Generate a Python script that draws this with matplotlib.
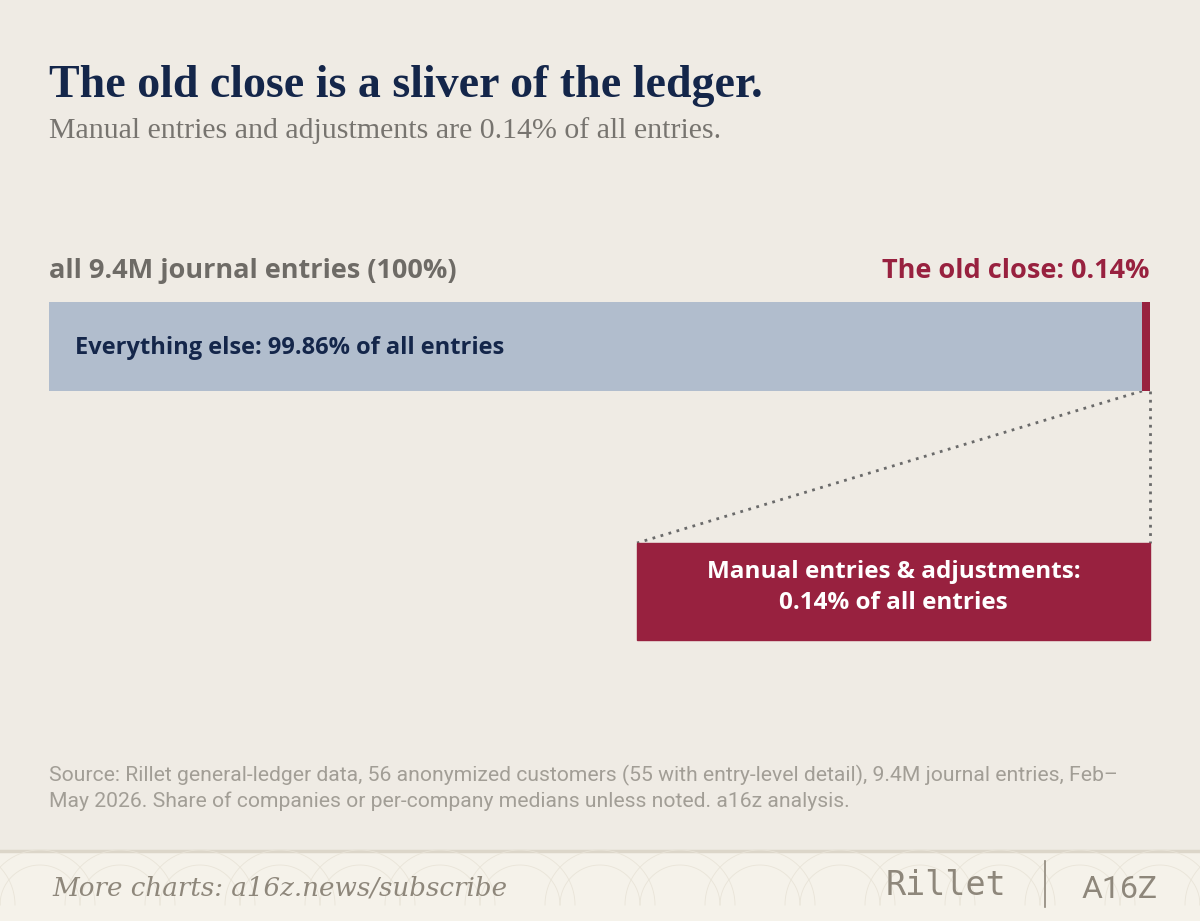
import numpy as np
import matplotlib
matplotlib.use('Agg')
import matplotlib.pyplot as plt
from matplotlib.patches import Rectangle

# data
segments = ['Everything else', 'Manual entries & adjustments']
shares = [99.86, 0.14]
total_entries = '9.4M'
min_visible = 0.7  # make the sliver visible on screen

BG = '#EFEBE4'
FOOT_BG = '#F5F2EA'
NAVY = '#14264A'
CRIMSON = '#98213F'
BLUE = '#B1BDCD'
GRAY = '#6E6B66'
SRC_GRAY = '#A29E96'
FOOT_GRAY = '#8E877B'
SANS = 'Open Sans'

W, H = 1200, 921
fig = plt.figure(figsize=(W / 100, H / 100), dpi=100, facecolor=BG)

# pixel overlay for text and decoration
ov = fig.add_axes([0, 0, 1, 1], zorder=0)
ov.set_xlim(0, W)
ov.set_ylim(H, 0)
ov.axis('off')
ov.set_facecolor(BG)

# footer band with faint arc pattern
ov.add_patch(Rectangle((0, 851), W, 70, color=FOOT_BG, zorder=0))
ov.plot([0, W], [851, 851], color='#DCD6C9', lw=2.5, zorder=1)
t = np.linspace(np.pi, 2 * np.pi, 60)
for cx in np.arange(-40, W + 80, 80):
    for r in (40, 55):
        ov.plot(cx + r * np.cos(t), 905 + r * np.sin(t), color='#E9E4D8', lw=0.6, zorder=1)

ov.text(49, 97, 'The old close is a sliver of the ledger.', family='Liberation Serif',
        weight='bold', fontsize=33, color=NAVY, va='baseline')
ov.text(49, 138, 'Manual entries and adjustments are 0.14% of all entries.',
        family='Liberation Serif', fontsize=21.5, color='#77746F', va='baseline')

ov.text(49, 278, f'all {total_entries} journal entries (100%)', family=SANS,
        weight='bold', fontsize=19.5, color=GRAY, va='baseline')
ov.text(1150, 278, f'The old close: {shares[1]:.2f}%', family=SANS,
        weight='bold', fontsize=19.5, color=CRIMSON, va='baseline', ha='right')

# main bar
ax = fig.add_axes([49 / W, 1 - 391 / H, 1101 / W, 89 / H], zorder=2)
ax.set_xlim(0, 100)
ax.set_ylim(-0.5, 0.5)
ax.axis('off')
sliver = max(shares[1], min_visible)
ax.barh(0, 100 - sliver, left=0, height=1, color=BLUE)
ax.barh(0, sliver, left=100 - sliver, height=1, color=CRIMSON)
ax.text(2.35, -0.02, f'{segments[0]}: {shares[0]:.2f}% of all entries', family=SANS,
        weight='bold', fontsize=17, color=NAVY, va='center')

# callout box
bx0, bx1, by0, by1 = 637, 1150, 543, 640
ov.plot([1142, bx0], [391, by0], color='#6A6A6A', lw=2, ls=(0, (1, 2)), zorder=3)
ov.plot([1150, 1150], [391, by0], color='#6A6A6A', lw=2, ls=(0, (1, 2)), zorder=3)
ov.add_patch(Rectangle((bx0, by0), bx1 - bx0, by1 - by0, color=CRIMSON, zorder=4))
ov.text((bx0 + bx1) / 2, 578, f'{segments[1]}:', family=SANS, weight='bold',
        fontsize=17.5, color='white', ha='center', va='baseline', zorder=5)
ov.text((bx0 + bx1) / 2, 609, f'{shares[1]:.2f}% of all entries', family=SANS,
        weight='bold', fontsize=17.5, color='white', ha='center', va='baseline', zorder=5)

# source
src = ['Source: Rillet general-ledger data, 56 anonymized customers (55 with entry-level detail), 9.4M journal entries, Feb\u2013',
       'May 2026. Share of companies or per-company medians unless noted. a16z analysis.']
for i, line in enumerate(src):
    ov.text(49, 781 + 26 * i, line, family='Roboto',
            fontsize=15.2, color=SRC_GRAY, va='baseline')

# footer
ov.text(52, 895, 'More charts: a16z.news/subscribe', family='DejaVu Serif',
        style='italic', fontsize=18.8, color=FOOT_GRAY, va='baseline', zorder=3)
ov.text(1006, 895, 'Rillet', family='DejaVu Sans Mono', fontsize=24,
        color=FOOT_GRAY, va='baseline', ha='right', zorder=3)
ov.plot([1045, 1045], [861, 907], color=FOOT_GRAY, lw=1.2, zorder=3)
ov.text(1120, 898, 'A16Z', family='Roboto', fontsize=23,
        color=FOOT_GRAY, va='baseline', ha='center', zorder=3)

fig.savefig('out.png', dpi=100, facecolor=BG)
